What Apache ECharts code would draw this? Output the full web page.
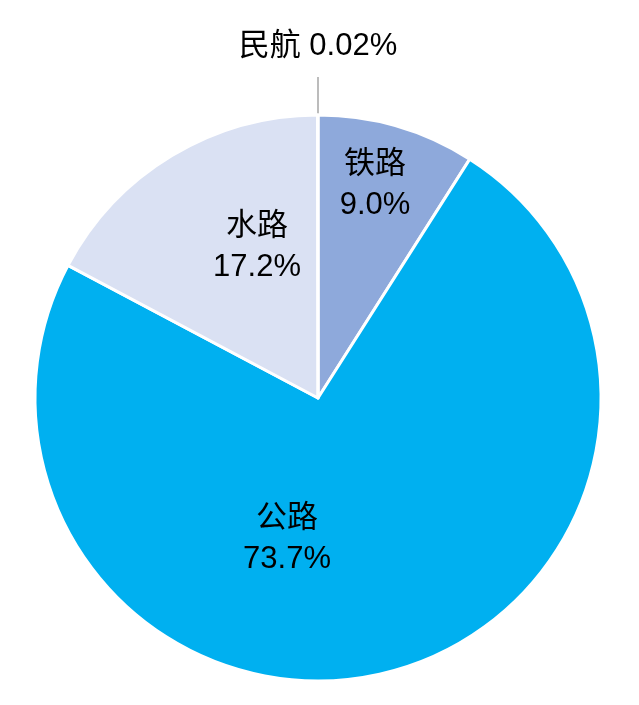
<!DOCTYPE html>
<html><head><meta charset="utf-8">
<style>html,body{margin:0;padding:0;background:#fff}#c{width:639px;height:705px}</style>
<script src="https://cdn.jsdelivr.net/npm/echarts@6/dist/echarts.min.js"></script>
</head><body><div id="c"></div>
<script>
var categories = ['铁路', '公路', '水路', '民航'];
var shares = [9.0, 73.7, 17.2, 0.02];
var shareLabels = ['9.0%', '73.7%', '17.2%', '0.02%'];
var colors = ['#8EA9DB', '#00B0F0', '#DAE1F3', '#DAE1F3'];
var labelSpots = [[375, 185], [287, 539], [257, 247], [318, 46]];

var chart = echarts.init(document.getElementById('c'));
var data = categories.map(function (n, i) {
  var item = { name: n, value: shares[i], itemStyle: { color: colors[i] } };
  if (i === 3) {
    item.label = { formatter: n + ' ' + shareLabels[i], lineHeight: 32, padding: [0, 0, 30, 0] };
    item.labelLine = { show: true, lineStyle: { color: '#A6A6A6', width: 1.5 } };
  }
  return item;
});
chart.setOption({
  animation: false,
  series: [{
    type: 'pie',
    center: [318, 398],
    radius: 283,
    startAngle: 90,
    clockwise: true,
    data: data,
    itemStyle: { borderColor: '#fff', borderWidth: 3 },
    label: {
      show: true,
      position: 'inside',
      color: '#000',
      fontSize: 31,
      lineHeight: 41,
      align: 'center',
      fontFamily: 'Liberation Sans, Arial, "Noto Sans CJK SC", sans-serif',
      formatter: function (p) { return p.name + '\n' + shareLabels[p.dataIndex]; }
    },
    labelLine: { show: false },
    labelLayout: function (p) {
      var s = labelSpots[p.dataIndex];
      return { x: s[0], y: s[1], align: 'center', verticalAlign: 'middle' };
    }
  }]
});
</script></body></html>
